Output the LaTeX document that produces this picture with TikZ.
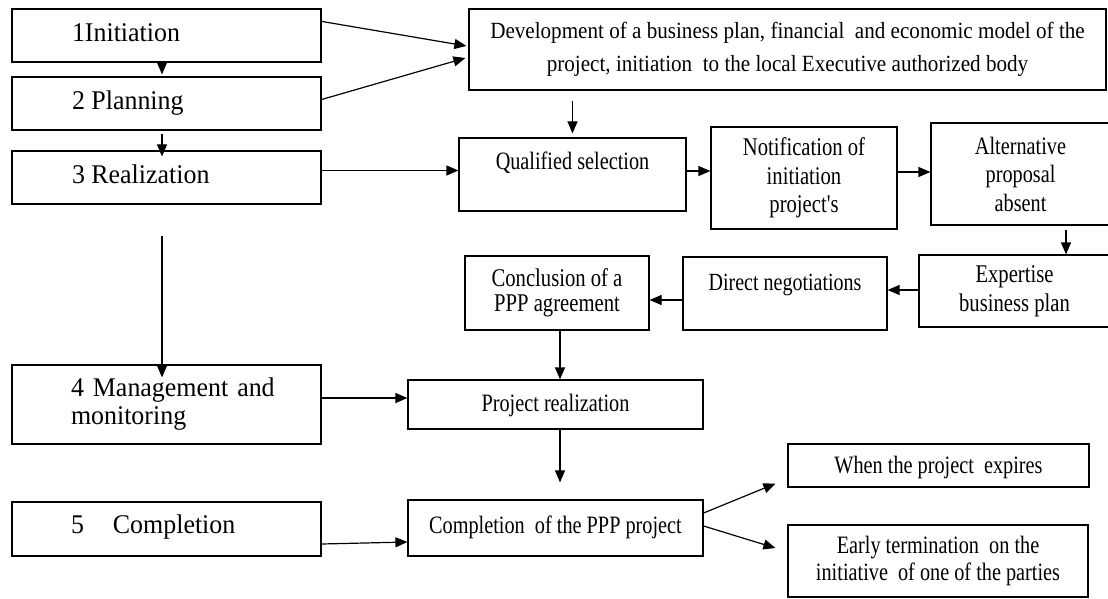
\documentclass[tikz,border=0pt]{standalone}
\usepackage{fontspec}
\setmainfont{Liberation Serif}
\newfontfamily\fR[FakeStretch=0.81]{Liberation Serif}
\newfontfamily\fD[FakeStretch=0.91]{Liberation Serif}
\newfontfamily\fL[FakeStretch=0.96]{Liberation Serif}
\usetikzlibrary{arrows.meta,calc}
\begin{document}
\begin{tikzpicture}[x=1pt,y=-1pt,
  box/.style={draw, line width=1.2pt, inner sep=0pt},
  lbox/.style={box, minimum width=309pt, minimum height=53pt, font=\fL\fontsize{27}{28}\selectfont},
  rfont/.style={font=\fR\fontsize{#1}{#1}\selectfont},
  bl/.style={text height=#1, text depth=0pt},
  bd/.style={text height=0pt, text depth=#1},
  arr/.style={line width=1.2pt, -{Triangle[length=12pt,width=10pt]}},
]
\useasboundingbox (0,0) rectangle (1108,599);
\fill[white] (0,0) rectangle (1108,599);
\clip (0,0) rectangle (1108,599);

% left column
\node[lbox, bl=13pt] (b1) at (166.5,35.5) {\makebox[309pt][l]{\hspace*{60pt}1Initiation}};
\node[lbox, bl=13pt] (b2) at (166.5,103.5) {\makebox[309pt][l]{\hspace*{60pt}2 Planning}};
\node[lbox, bl=11pt] (b3) at (166.5,177.5) {\makebox[309pt][l]{\hspace*{60pt}3 Realization}};
\node[lbox, minimum height=79pt, text width=309pt, align=left] (b4) at (166.5,404.5)
  {\hspace*{59pt}4 Management and\\\hspace*{59pt}monitoring};
\node[lbox, minimum height=54pt, bl=8pt] (b5) at (166.5,529) {\makebox[309pt][l]{\hspace*{59pt}5\hspace{29pt}Completion}};

% right part
\node[box, align=center, minimum width=637pt, minimum height=81pt, font=\fD\fontsize{23.2}{33}\selectfont] (dev) at (787.5,49.5)
  {Development of a business plan, financial\ \ and economic model of the\\project, initiation\ \ to the local Executive authorized body};
\node[box, minimum width=227pt, minimum height=73pt, rfont=25, bd=11pt] (qs) at (572.5,174.5) {Qualified selection};
\node[box, align=center, minimum width=186pt, minimum height=102pt, font=\fR\fontsize{25.5}{28.5}\selectfont] (nt) at (804,178) {Notification of\\initiation\\project's};
\node[box, align=center, minimum width=179pt, minimum height=102pt, font=\fR\fontsize{25}{28.5}\selectfont] (alt) at (1020.5,174) {Alternative\\proposal\\absent};
\node[box, align=center, minimum width=191pt, minimum height=72pt, font=\fR\fontsize{25.5}{29}\selectfont] (exp) at (1014.5,291) {Expertise\\business plan};
\node[box, minimum width=204pt, minimum height=73pt, rfont=24.7, bd=7pt] (dn) at (785,293.5) {Direct negotiations};
\node[box, align=center, minimum width=184pt, minimum height=74pt, font=\fR\fontsize{25.5}{25}\selectfont] (cc) at (557,293) {Conclusion of a\\PPP agreement};
\node[box, minimum width=295pt, minimum height=49pt, rfont=25, bl=13pt] (pr) at (555.5,404.5) {Project realization};
\node[box, minimum width=295pt, minimum height=56pt, rfont=25, bl=10pt] (cp) at (555.5,528) {Completion\ \ of the PPP project};
\node[box, minimum width=301pt, minimum height=43pt, rfont=25, bl=15pt] (when) at (938.5,465.5) {When the project\ \ expires};
\node[box, align=center, minimum width=300pt, minimum height=72pt, font=\fR\fontsize{25}{27}\selectfont] (early) at (938,561)
  {Early termination\ \ on the\\initiative\ \ of one of the parties};

% connectors
\draw[arr] ($(b1.south)+(-4.5,0)$) -- ($(b2.north)+(-4.5,-2)$);
\draw[arr] ($(b2.south)+(-4.5,3)$) -- ($(b3.north)+(-4.5,6)$);
\draw[arr] ($(b3.south)+(-4.5,31)$) -- ($(b4.north)+(-4.5,13)$);
\draw[arr] ($(b1.north east)+(0,13)$) -- ($(dev.west)+(-2,-3.5)$);
\draw[arr] ($(b2.east)+(0,-4)$) -- ($(dev.west)+(-3,8.5)$);
\draw[arr] ($(b3.east)+(0,-7)$) coordinate (t3) -- (t3 -| qs.west);
\draw[arr] ($(dev.south -| qs.north)+(0,10)$) -- ($(qs.north)+(0,-4)$);
\draw[arr] ($(qs.east)+(0,-3.5)$) coordinate (t4) -- (t4 -| nt.west);
\draw[arr] ($(nt.east)+(0,-6)$) coordinate (t5) -- (t5 -| alt.west);
\draw[arr] ($(alt.south)+(45.5,4)$) -- ($(exp.north)+(51.5,0)$);
\draw[arr] ($(exp.west)+(0,-1)$) coordinate (t6) -- (t6 -| dn.east);
\draw[arr] ($(dn.west)+(0,6.5)$) coordinate (t7) -- (t7 -| cc.east);
\draw[arr] ($(cc.south)+(3,0)$) -- ($(pr.north)+(4.5,0)$);
\draw[arr] ($(b4.east)+(0,-6.5)$) coordinate (t8) -- (t8 -| pr.west);
\draw[arr] ($(pr.south)+(4.5,0)$) -- ($(cp.north)+(4.5,-17)$);
\draw[arr] ($(b5.east)+(0,15)$) -- ($(cp.west)+(0,14)$);
\draw[arr] ($(cp.east)+(0,-15)$) -- ($(when.south west)+(-12,-4)$);
\draw[arr] ($(cp.east)+(0,-2)$) -- ($(early.west)+(-12,-13)$);
\end{tikzpicture}
\end{document}
